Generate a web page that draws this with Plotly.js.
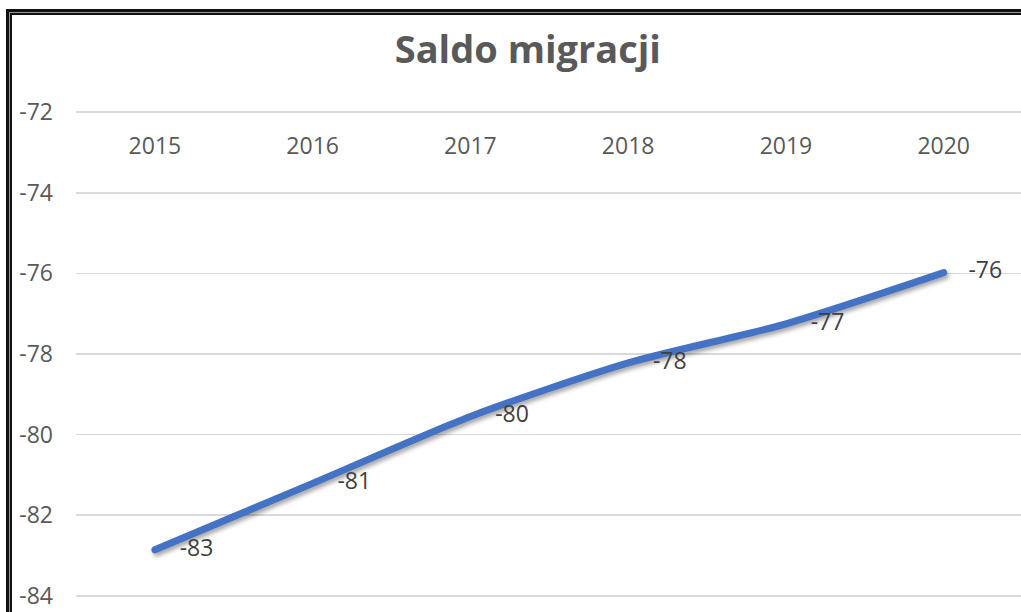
<!DOCTYPE html>
<html>
<head>
<meta charset="utf-8">
<script src="https://cdn.plot.ly/plotly-3.0.1.min.js"></script>
<style>
  html, body { margin: 0; padding: 0; background: #fff; }
  #wrap { position: relative; width: 1021px; height: 612px; overflow: hidden; }
  #chart { position: absolute; left: 0; top: 0; width: 1021px; height: 612px; }
  .fr { position: absolute; pointer-events: none; }
</style>
</head>
<body>
<div id="wrap">
  <div id="chart"></div>
  <div class="fr" style="left:6px;top:9px;width:3px;height:603px;background:#111;"></div>
  <div class="fr" style="left:6px;top:9px;width:1015px;height:3px;background:#111;"></div>
  <div class="fr" style="left:9px;top:12px;width:1px;height:600px;background:#999;"></div>
  <div class="fr" style="left:9px;top:12px;width:1012px;height:1px;background:#999;"></div>
  <div class="fr" style="left:10px;top:13px;width:2px;height:599px;background:#111;"></div>
  <div class="fr" style="left:10px;top:13px;width:1011px;height:2px;background:#111;"></div>
</div>
<script>
// Data
const years = ["2015", "2016", "2017", "2018", "2019", "2020"];
const saldo = [-82.86, -81.21, -79.55, -78.22, -77.25, -75.98];
const yTicks = [-84, -82, -80, -78, -76, -74, -72];

const FONT = "Open Sans, Liberation Sans, Arial, sans-serif";

const trace = {
  type: "scatter",
  mode: "lines+markers+text",
  x: years,
  y: saldo,
  line: { color: "#4472C4", width: 7, shape: "spline", smoothing: 0.7 },
  marker: { size: 38, opacity: 0, color: "#4472C4" },
  texttemplate: "%{y:.0f}",
  textposition: "middle right",
  textfont: { family: FONT, size: 23, color: "#404040" },
  cliponaxis: false,
  hoverinfo: "skip"
};

const layout = {
  width: 1021,
  height: 612,
  margin: { l: 76, r: 0, t: 111, b: 15 },
  paper_bgcolor: "#ffffff",
  plot_bgcolor: "#ffffff",
  showlegend: false,
  title: {
    text: "<b>Saldo migracji</b>",
    font: { family: FONT, size: 38, color: "#595959" },
    xref: "container", x: 0.517, xanchor: "center",
    yref: "container", y: 0.918, yanchor: "middle"
  },
  xaxis: {
    type: "category",
    anchor: "free",
    position: 0.96,
    side: "bottom",
    range: [-0.5, 5.49],
    ticks: "",
    showgrid: false,
    showline: false,
    zeroline: false,
    tickfont: { family: FONT, size: 23, color: "#595959" },
    fixedrange: true
  },
  yaxis: {
    domain: [0, 1],
    range: [-84.03, -71.97],
    tickvals: yTicks,
    ticktext: yTicks.map(v => String(v)),
    showgrid: true,
    gridcolor: "#d9d9d9",
    gridwidth: 1.5,
    zeroline: false,
    showline: false,
    ticks: "",
    ticklabelstandoff: 22,
    tickfont: { family: FONT, size: 23, color: "#595959" },
    fixedrange: true
  }
};

Plotly.newPlot("chart", [trace], layout, { displayModeBar: false, staticPlot: true }).then(() => {
  document.querySelectorAll("#chart .scatterlayer .js-line").forEach(p => {
    p.style.strokeLinecap = "round";
    p.style.filter = "drop-shadow(2px 3px 2px rgba(0,0,0,0.35))";
  });
});
</script>
</body>
</html>
